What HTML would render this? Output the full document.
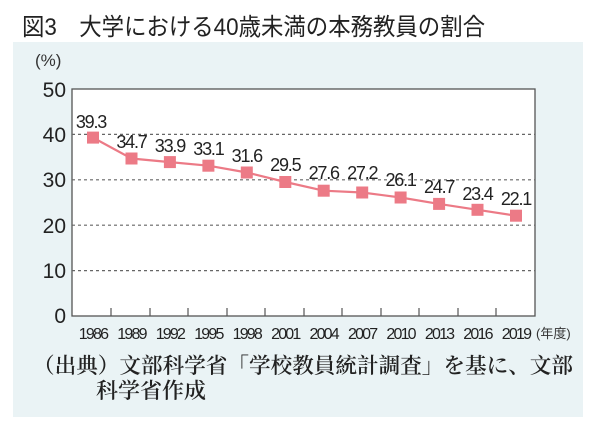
<!DOCTYPE html>
<html><head><meta charset="utf-8"><style>
body{margin:0;background:#fff;width:600px;height:427px;overflow:hidden}
</style></head><body>
<svg width="600" height="427" xmlns="http://www.w3.org/2000/svg" font-family="'Liberation Sans','Noto Sans CJK JP',sans-serif">
<rect x="0" y="0" width="600" height="427" fill="#fff"/>
<text x="22" y="35" font-size="24" fill="#222" textLength="463" lengthAdjust="spacingAndGlyphs" font-family="'Liberation Sans','Noto Sans CJK JP',sans-serif">図3　大学における40歳未満の本務教員の割合</text>
<rect x="13" y="42" width="570" height="375" fill="#eaf3f5"/>
<rect x="72" y="89" width="463" height="227" fill="#fff" stroke="#555" stroke-width="1.3"/>
<g stroke="#666" stroke-width="1.2" stroke-dasharray="3,3">
<line x1="72" y1="134.4" x2="535" y2="134.4"/>
<line x1="72" y1="179.8" x2="535" y2="179.8"/>
<line x1="72" y1="225.2" x2="535" y2="225.2"/>
<line x1="72" y1="270.6" x2="535" y2="270.6"/>
</g>
<g stroke="#555" stroke-width="1.2">
<line x1="111" y1="308" x2="111" y2="316"/><line x1="150" y1="308" x2="150" y2="316"/><line x1="188" y1="308" x2="188" y2="316"/><line x1="227" y1="308" x2="227" y2="316"/><line x1="265" y1="308" x2="265" y2="316"/><line x1="304" y1="308" x2="304" y2="316"/><line x1="342" y1="308" x2="342" y2="316"/><line x1="381" y1="308" x2="381" y2="316"/><line x1="419" y1="308" x2="419" y2="316"/><line x1="458" y1="308" x2="458" y2="316"/><line x1="496" y1="308" x2="496" y2="316"/>
</g>
<g font-size="21" fill="#222" text-anchor="end">
<text x="66" y="97">50</text><text x="66" y="142">40</text><text x="66" y="187">30</text><text x="66" y="233">20</text><text x="66" y="278">10</text><text x="66" y="323">0</text>
</g>
<text x="35" y="66" font-size="17" fill="#333">(%)</text>
<polyline fill="none" stroke="#ec7a86" stroke-width="2.2" points="93,137.6 131.5,158.5 169.9,162.1 208.4,165.7 246.8,172.5 285.3,182 323.7,190.7 362.2,192.5 400.6,197.5 439.1,203.9 477.5,209.8 516,215.7"/>
<g fill="#ec7a86">
<rect x="87" y="131.6" width="12" height="12"/><rect x="125.5" y="152.5" width="12" height="12"/><rect x="163.9" y="156.1" width="12" height="12"/><rect x="202.4" y="159.7" width="12" height="12"/><rect x="240.8" y="166.5" width="12" height="12"/><rect x="279.3" y="176" width="12" height="12"/><rect x="317.7" y="184.7" width="12" height="12"/><rect x="356.2" y="186.5" width="12" height="12"/><rect x="394.6" y="191.5" width="12" height="12"/><rect x="433.1" y="197.9" width="12" height="12"/><rect x="471.5" y="203.8" width="12" height="12"/><rect x="510" y="209.7" width="12" height="12"/>
</g>
<g font-size="18" fill="#222" text-anchor="middle" letter-spacing="-1.2">
<text x="91" y="128">39.3</text><text x="131.5" y="148">34.7</text><text x="169.9" y="152">33.9</text><text x="208.4" y="155">33.1</text><text x="246.8" y="162">31.6</text><text x="285.3" y="171">29.5</text><text x="323.7" y="179">27.6</text><text x="362.2" y="179">27.2</text><text x="400.6" y="186">26.1</text><text x="439.1" y="193">24.7</text><text x="477.5" y="200">23.4</text><text x="516" y="205">22.1</text>
</g>
<g font-size="16" fill="#222" text-anchor="middle" letter-spacing="-1.8">
<text x="93" y="339">1986</text><text x="131.5" y="339">1989</text><text x="169.9" y="339">1992</text><text x="208.4" y="339">1995</text><text x="246.8" y="339">1998</text><text x="285.3" y="339">2001</text><text x="323.7" y="339">2004</text><text x="362.2" y="339">2007</text><text x="400.6" y="339">2010</text><text x="439.1" y="339">2013</text><text x="477.5" y="339">2016</text><text x="516" y="339">2019</text>
</g>
<text x="536" y="338" font-size="13" fill="#333">(年度)</text>
<g font-family="'Noto Serif CJK SC','Noto Serif CJK JP',serif" font-size="21.5" font-weight="600" fill="#222">
<text x="33" y="373" textLength="540" lengthAdjust="spacingAndGlyphs">（出典）文部科学省「学校教員統計調査」を基に、文部</text>
<text x="96" y="398" textLength="110" lengthAdjust="spacingAndGlyphs">科学省作成</text>
</g>
</svg>
</body></html>
